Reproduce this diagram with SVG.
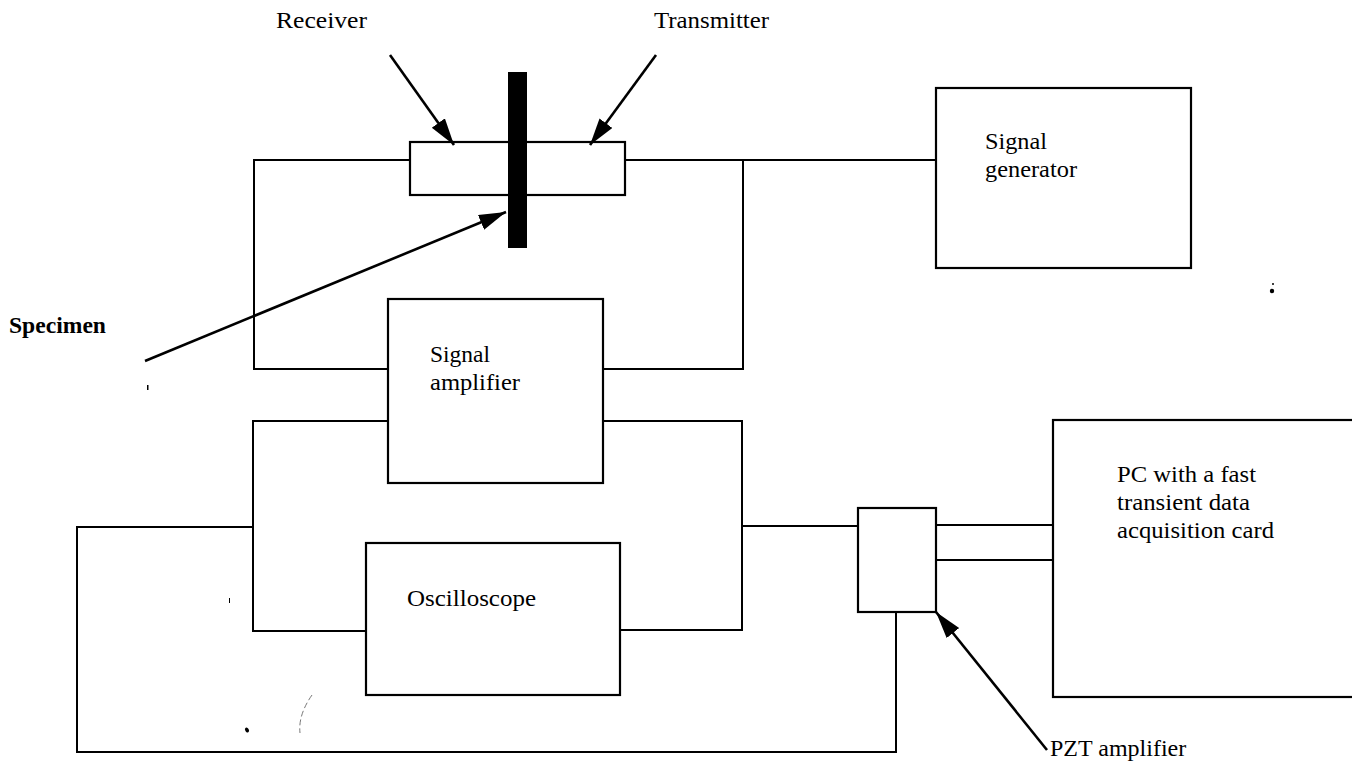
<svg xmlns="http://www.w3.org/2000/svg" width="1352" height="761" viewBox="0 0 1352 761">
<style>
.box{fill:none;stroke:#000;stroke-width:2.2}
.wire{fill:none;stroke:#000;stroke-width:2}
.arr{fill:none;stroke:#000;stroke-width:2.6}
.t{font-family:"Liberation Serif","Times New Roman",serif;font-size:24px;fill:#000}
.tb{font-family:"Liberation Serif","Times New Roman",serif;font-size:23px;font-weight:bold;fill:#000}
.speck{fill:#000}
</style>
<defs>
<marker id="ah" markerUnits="userSpaceOnUse" markerWidth="30" markerHeight="18" refX="27" refY="8" orient="auto">
<path d="M0,0 L27,8 L0,16 Z" fill="#000"/>
</marker>
</defs>
<rect width="1352" height="761" fill="#fff"/>
<g id="connectors">
<polyline class="wire" points="410,160 254,160 254,369 388,369"/>
<polyline class="wire" points="625,160 936,160"/>
<polyline class="wire" points="743,160 743,369 603,369"/>
<polyline class="wire" points="388,421 253,421 253,631 366,631"/>
<polyline class="wire" points="603,421 742,421 742,630 620,630"/>
<polyline class="wire" points="742,526 858,526"/>
<polyline class="wire" points="253,527 77,527 77,752 896,752 896,612"/>
<line class="wire" x1="936" y1="525" x2="1053" y2="525"/>
<line class="wire" x1="936" y1="560" x2="1053" y2="560"/>
<line class="arr" x1="390" y1="55" x2="454" y2="145" marker-end="url(#ah)"/>
<line class="arr" x1="656" y1="55" x2="590" y2="145" marker-end="url(#ah)"/>
<line class="arr" x1="145" y1="361" x2="506" y2="212" marker-end="url(#ah)"/>
<line class="arr" x1="1047" y1="750" x2="936" y2="612" marker-end="url(#ah)"/>
</g>
<g id="transducers">
<rect class="box" x="410" y="142" width="215" height="53"/>
</g>
<g id="specimen">
<rect x="508" y="72" width="19" height="176" fill="#000"/>
</g>
<g id="signal-generator">
<rect class="box" x="936" y="88" width="255" height="180" fill="#fff"/>
<text class="t" x="985" y="149" textLength="62" lengthAdjust="spacingAndGlyphs">Signal</text>
<text class="t" x="985" y="177" textLength="92" lengthAdjust="spacingAndGlyphs">generator</text>
</g>
<g id="signal-amplifier">
<rect class="box" x="388" y="299" width="215" height="184"/>
<text class="t" x="430" y="362" textLength="60" lengthAdjust="spacingAndGlyphs">Signal</text>
<text class="t" x="430" y="390" textLength="90" lengthAdjust="spacingAndGlyphs">amplifier</text>
</g>
<g id="oscilloscope">
<rect class="box" x="366" y="543" width="254" height="152"/>
<text class="t" x="407" y="606" textLength="129" lengthAdjust="spacingAndGlyphs">Oscilloscope</text>
</g>
<g id="pzt-amplifier">
<rect class="box" x="858" y="508" width="78" height="104"/>
</g>
<g id="pc">
<rect class="box" x="1053" y="420" width="310" height="277"/>
<text class="t" x="1117" y="482" textLength="139" lengthAdjust="spacingAndGlyphs">PC with a fast</text>
<text class="t" x="1117" y="510" textLength="133" lengthAdjust="spacingAndGlyphs">transient data</text>
<text class="t" x="1117" y="538" textLength="157" lengthAdjust="spacingAndGlyphs">acquisition card</text>
</g>
<g id="labels">
<text class="t" x="276" y="28" textLength="91" lengthAdjust="spacingAndGlyphs">Receiver</text>
<text class="t" x="654" y="28" textLength="115" lengthAdjust="spacingAndGlyphs">Transmitter</text>
<text class="tb" x="9" y="333" textLength="97" lengthAdjust="spacingAndGlyphs">Specimen</text>
<text class="t" x="1050" y="756" font-size="21">PZT amplifier</text>
</g>
<g id="specks">
<ellipse class="speck" cx="1272" cy="291" rx="2.2" ry="2.2"/>
<circle class="speck" cx="1273" cy="284" r="1"/>
<rect class="speck" x="147" y="385" width="1.5" height="5"/>
<ellipse class="speck" cx="247" cy="730" rx="1.8" ry="2.6" transform="rotate(-30 247 730)"/>
<path d="M312,695 Q298,715 300,733" fill="none" stroke="#555" stroke-width="0.8" stroke-dasharray="6,3"/>
<rect class="speck" x="229" y="598" width="1" height="5"/>
</g>
</svg>
